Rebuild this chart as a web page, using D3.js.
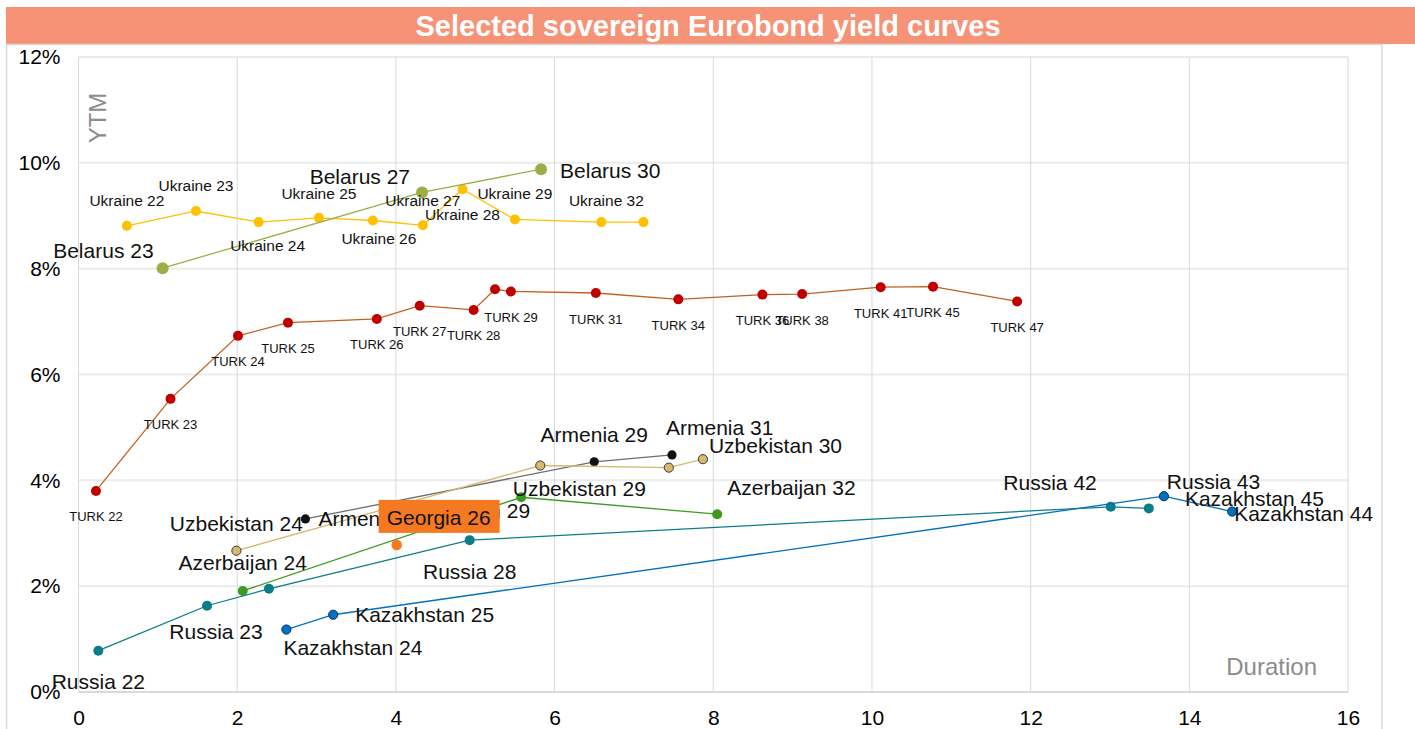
<!DOCTYPE html>
<html>
<head>
<meta charset="utf-8">
<script src="https://cdn.jsdelivr.net/npm/d3@7"></script>
<style>
  body { margin: 0; background: #fff; }
  svg { display: block; font-family: "Liberation Sans", Arial, sans-serif; }
</style>
</head>
<body>
<div id="chart"></div>
<script>
// ---- data (duration in years, YTM in %) ----
var ukraineNames = ['Ukraine 22', 'Ukraine 23', 'Ukraine 24', 'Ukraine 25', 'Ukraine 26', 'Ukraine 27', 'Ukraine 28', 'Ukraine 29', 'Ukraine 32', ''];
var ukraineDur = [0.61, 1.48, 2.27, 3.03, 3.71, 4.34, 4.84, 5.50, 6.59, 7.12];
var ukraineYtm = [8.81, 9.09, 8.88, 8.96, 8.91, 8.82, 9.50, 8.93, 8.88, 8.88];

var belarusNames = ['Belarus 23', 'Belarus 27', 'Belarus 30'];
var belarusDur = [1.06, 4.33, 5.83];
var belarusYtm = [8.01, 9.44, 9.88];

var turkNames = ['TURK 22', 'TURK 23', 'TURK 24', 'TURK 25', 'TURK 26', 'TURK 27', 'TURK 28', '', 'TURK 29',
  'TURK 31', 'TURK 34', 'TURK 36', 'TURK 38', 'TURK 41', 'TURK 45', 'TURK 47'];
var turkDur = [0.22, 1.16, 2.01, 2.64, 3.76, 4.30, 4.98, 5.25, 5.45, 6.52, 7.56, 8.62, 9.12, 10.11, 10.77, 11.83];
var turkYtm = [3.80, 5.54, 6.73, 6.98, 7.05, 7.30, 7.22, 7.61, 7.57, 7.54, 7.42, 7.51, 7.52, 7.65, 7.66, 7.38];

var armeniaNames = ['Armenia 25', 'Armenia 29', 'Armenia 31'];
var armeniaDur = [2.86, 6.50, 7.48];
var armeniaYtm = [3.27, 4.35, 4.48];

var uzbekNames = ['Uzbekistan 24', 'Uzbekistan 29', '', 'Uzbekistan 30'];
var uzbekDur = [1.99, 5.82, 7.44, 7.87];
var uzbekYtm = [2.67, 4.28, 4.24, 4.40];

var azerNames = ['Azerbaijan 24', 'Azerbaijan 29', 'Azerbaijan 32'];
var azerDur = [2.07, 5.58, 8.05];
var azerYtm = [1.91, 3.68, 3.36];

var georgiaNames = ['Georgia 26'];
var georgiaDur = [4.01];
var georgiaYtm = [2.78];

var russiaNames = ['Russia 22', 'Russia 23', '', 'Russia 28', 'Russia 42', 'Russia 43'];
var russiaDur = [0.25, 1.62, 2.40, 4.93, 13.01, 13.49];
var russiaYtm = [0.78, 1.63, 1.95, 2.87, 3.50, 3.47];

var kazakhNames = ['Kazakhstan 24', 'Kazakhstan 25', 'Kazakhstan 45', 'Kazakhstan 44'];
var kazakhDur = [2.62, 3.21, 13.68, 14.54];
var kazakhYtm = [1.18, 1.46, 3.70, 3.41];

var xTicks = [0, 2, 4, 6, 8, 10, 12, 14, 16];
var yTicks = [0, 2, 4, 6, 8, 10, 12];

// ---- styling ----
var series = [
  { names: ukraineNames, dur: ukraineDur, ytm: ukraineYtm, line: '#FFC000', fill: '#FFC000', stroke: 'none', r: 5, font: 15.5 },
  { names: belarusNames, dur: belarusDur, ytm: belarusYtm, line: '#9BAF48', fill: '#9BAF48', stroke: 'none', r: 6, font: 21 },
  { names: turkNames, dur: turkDur, ytm: turkYtm, line: '#C0621E', fill: '#C00000', stroke: 'none', r: 5, font: 13, below: 26 },
  { names: armeniaNames, dur: armeniaDur, ytm: armeniaYtm, line: '#6e6e6e', fill: '#111', stroke: 'none', r: 4.6, font: 21 },
  { names: uzbekNames, dur: uzbekDur, ytm: uzbekYtm, line: '#D6B870', fill: '#D6B870', stroke: '#3a3a30', r: 4.6, font: 21 },
  { names: azerNames, dur: azerDur, ytm: azerYtm, line: '#3E9B20', fill: '#3E9B20', stroke: 'none', r: 5, font: 21 },
  { names: georgiaNames, dur: georgiaDur, ytm: georgiaYtm, line: '#F47920', fill: '#F47920', stroke: 'none', r: 5.3, font: 21 },
  { names: russiaNames, dur: russiaDur, ytm: russiaYtm, line: '#0B7D8A', fill: '#0B7D8A', stroke: 'none', r: 5, font: 21 },
  { names: kazakhNames, dur: kazakhDur, ytm: kazakhYtm, line: '#0070C0', fill: '#0070C0', stroke: '#0B2F5B', r: 4.6, font: 21 }
];

// label placement relative to its point: anchor, dx, dy (to text middle)
var labelPos = {
  'Ukraine 22': ['middle', 0, -25], 'Ukraine 23': ['middle', 0, -25], 'Ukraine 24': ['middle', 9, 23],
  'Ukraine 25': ['middle', 0, -24], 'Ukraine 26': ['middle', 6, 18], 'Ukraine 27': ['middle', 0, -25],
  'Ukraine 28': ['middle', 0, 25], 'Ukraine 29': ['middle', 0, -26], 'Ukraine 32': ['middle', 5, -22],
  'Belarus 23': ['end', -9, -18], 'Belarus 27': ['end', -12, -16], 'Belarus 30': ['start', 19, 1],
  'Armenia 25': ['start', 13, 0], 'Armenia 29': ['middle', 0, -27], 'Armenia 31': ['start', -6, -27],
  'Uzbekistan 24': ['middle', 0, -27], 'Uzbekistan 29': ['middle', 39, 23], 'Uzbekistan 30': ['start', 6, -14],
  'Azerbaijan 24': ['middle', 0, -28], 'Azerbaijan 29': ['end', 9, 13], 'Azerbaijan 32': ['start', 10, -27],
  'Russia 22': ['middle', 0, 31], 'Russia 23': ['middle', 9, 26], 'Russia 28': ['middle', 0, 31],
  'Russia 42': ['end', -14, -24], 'Russia 43': ['start', 18, -27],
  'Kazakhstan 24': ['start', -3, 18], 'Kazakhstan 25': ['start', 22, 0],
  'Kazakhstan 45': ['start', 21, 2], 'Kazakhstan 44': ['start', 2, 2]
};

var W = 1415, H = 729;
var plot = { left: 78.5, right: 1348, top: 57, bottom: 692 };

var svg = d3.select('#chart').append('svg').attr('width', W).attr('height', H);

// title band
svg.append('rect').attr('x', 6).attr('y', 7).attr('width', W - 6).attr('height', 37).attr('fill', '#F69377');
svg.append('text')
  .attr('x', 708).attr('y', 26)
  .attr('text-anchor', 'middle').attr('dominant-baseline', 'central')
  .style('font-size', '29px').style('font-weight', 'bold').style('fill', '#fff')
  .text('Selected sovereign Eurobond yield curves');

// outer frame
svg.append('path')
  .attr('d', 'M6.5,44 V' + H + ' M1382,44 V' + H + ' M6.5,44.5 H1382')
  .attr('fill', 'none').attr('stroke', '#d9d9d9').attr('stroke-width', 1.5);

var x = d3.scaleLinear().domain([0, 16]).range([plot.left, plot.right]);
var y = d3.scaleLinear().domain([0, 12]).range([plot.bottom, plot.top]);

// gridlines
var grid = svg.append('g');
grid.selectAll('.hg').data(yTicks).enter().append('line')
  .attr('x1', plot.left).attr('x2', plot.right)
  .attr('y1', function (d) { return y(d); }).attr('y2', function (d) { return y(d); })
  .attr('stroke', function (d) { return d === 0 ? '#d9d9d9' : '#ebebeb'; })
  .attr('stroke-width', 2);
grid.selectAll('.vg').data(xTicks).enter().append('line')
  .attr('y1', plot.top).attr('y2', plot.bottom)
  .attr('x1', function (d) { return x(d); }).attr('x2', function (d) { return x(d); })
  .attr('stroke', '#d9d9d9').attr('stroke-width', 1);

// axes
var xAxis = svg.append('g')
  .attr('transform', 'translate(0,' + plot.bottom + ')')
  .call(d3.axisBottom(x).tickValues(xTicks).tickSize(0).tickPadding(18).tickFormat(d3.format('d')));
var yAxis = svg.append('g')
  .attr('transform', 'translate(' + plot.left + ',0)')
  .call(d3.axisLeft(y).tickValues(yTicks).tickSize(0).tickPadding(18).tickFormat(function (d) { return d + '%'; }));
[xAxis, yAxis].forEach(function (a) {
  a.select('.domain').remove();
  a.selectAll('text').style('font-size', '21px').style('fill', '#000').style('font-family', '"Liberation Sans", Arial, sans-serif');
});

// axis titles
svg.append('text')
  .attr('transform', 'translate(97,118) rotate(-90)')
  .attr('text-anchor', 'middle').attr('dominant-baseline', 'central')
  .style('font-size', '24px').style('fill', '#8c8c8c')
  .text('YTM');
svg.append('text')
  .attr('x', 1317).attr('y', 666)
  .attr('text-anchor', 'end').attr('dominant-baseline', 'central')
  .style('font-size', '24px').style('fill', '#8c8c8c')
  .text('Duration');

// series lines and points
var line = d3.line()
  .x(function (d) { return x(d.dur); })
  .y(function (d) { return y(d.ytm); });

var labelLayer = svg.append('g');
series.forEach(function (s) {
  var pts = s.names.map(function (n, i) { return { name: n, dur: s.dur[i], ytm: s.ytm[i] }; });
  var g = svg.append('g');
  if (pts.length > 1) {
    g.append('path').datum(pts).attr('d', line)
      .attr('fill', 'none').attr('stroke', s.line).attr('stroke-width', 1.3);
  }
  g.selectAll('circle').data(pts).enter().append('circle')
    .attr('cx', function (d) { return x(d.dur); })
    .attr('cy', function (d) { return y(d.ytm); })
    .attr('r', s.r)
    .attr('fill', s.fill)
    .attr('stroke', s.stroke)
    .attr('stroke-width', 1);

  pts.filter(function (d) { return d.name !== '' && (labelPos[d.name] || s.below); }).forEach(function (d) {
    var p = labelPos[d.name] || ['middle', 0, s.below];
    labelLayer.append('text')
      .attr('x', x(d.dur) + p[1])
      .attr('y', y(d.ytm) + p[2])
      .attr('text-anchor', p[0])
      .attr('dominant-baseline', 'central')
      .style('font-size', s.font + 'px')
      .style('fill', '#111')
      .text(d.name);
  });
});
labelLayer.raise();

// Georgia 26 highlighted label box
var geo = { dur: georgiaDur[0], ytm: georgiaYtm[0] };
var gBox = svg.append('g').attr('transform', 'translate(' + x(geo.dur) + ',' + y(geo.ytm) + ')');
gBox.append('rect').attr('x', -18).attr('y', -45).attr('width', 121).attr('height', 33).attr('fill', '#F47920');
gBox.append('text')
  .attr('x', 42).attr('y', -27)
  .attr('text-anchor', 'middle').attr('dominant-baseline', 'central')
  .style('font-size', '21px').style('fill', '#111')
  .text(georgiaNames[0]);
</script>
</body>
</html>
